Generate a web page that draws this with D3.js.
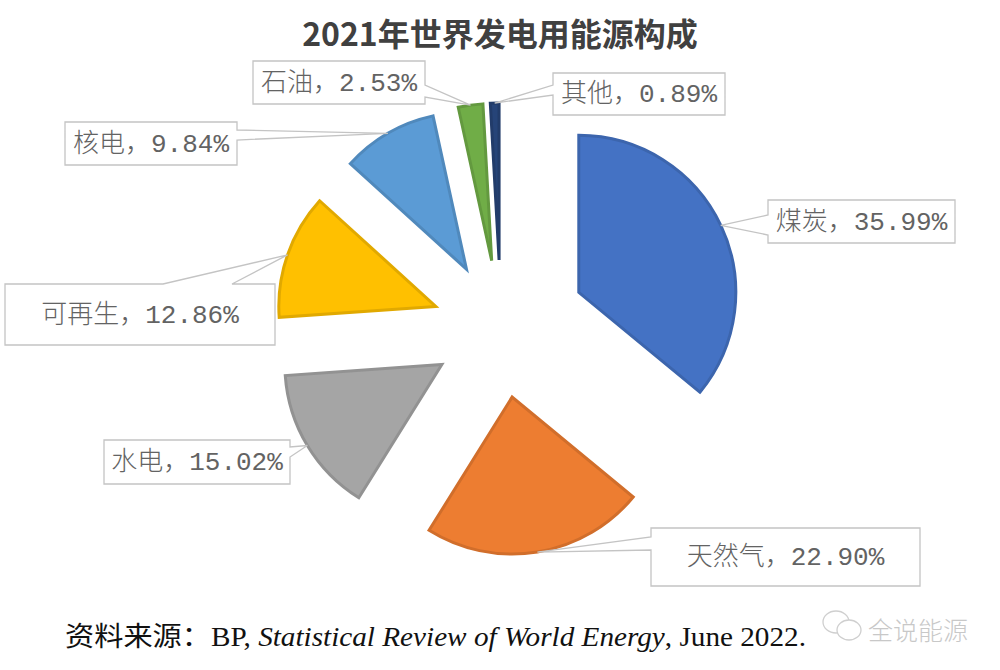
<!DOCTYPE html>
<html>
<head>
<meta charset="utf-8">
<script src="https://cdn.jsdelivr.net/npm/d3@7"></script>
<style>
  body { margin: 0; background: #fff; }
  svg { display: block; }
</style>
</head>
<body>
<script>
// 2021年世界发电用能源构成 (BP Statistical Review 2022)
var categories = ["煤炭", "天然气", "水电", "可再生", "核电", "石油", "其他"];
var shares = [35.99, 22.90, 15.02, 12.86, 9.84, 2.53, 0.89];
var colors = ["#4472C4", "#ED7D31", "#A5A5A5", "#FFC000", "#5B9BD5", "#70AD47", "#264478"];

var w = 1000, h = 670;
var cx = 501, cy = 329, R = 157;

// callout boxes: box corners, side the pointer leaves from, pointer base along that side
var callouts = {
  "煤炭":  { x0: 768, y0: 200, x1: 955, y1: 243, side: "left",  base: [215, 235] },
  "天然气": { x0: 651, y0: 528, x1: 920, y1: 586, side: "left",  base: [537, 550] },
  "水电":  { x0: 104, y0: 440, x1: 290, y1: 484, side: "right", base: [447, 457] },
  "可再生": { x0: 5,   y0: 284, x1: 275, y1: 345, side: "top",   base: [163, 232] },
  "核电":  { x0: 65,  y0: 122, x1: 237, y1: 165, side: "right", base: [130, 140] },
  "石油":  { x0: 253, y0: 61,  x1: 425, y1: 104, side: "right", base: [85, 97] },
  "其他":  { x0: 553, y0: 73,  x1: 725, y1: 115, side: "left",  base: [85, 95] }
};

function explode(name) {
  return name === "煤炭" ? 86 : 69;
}

var svg = d3.select("body")
    .append("svg")
    .attr("width", w)
    .attr("height", h);

// title
svg.append("text")
    .attr("x", 500)
    .attr("y", 46)
    .attr("text-anchor", "middle")
    .attr("font-family", "'Noto Sans CJK SC', 'Noto Sans', sans-serif")
    .attr("font-weight", "bold")
    .attr("font-size", 32)
    .attr("fill", "#404040")
    .text("2021年世界发电用能源构成");

var pie = d3.pie().sort(null).value(function (d) { return d.value; });
var arc = d3.arc().innerRadius(0).outerRadius(R);

var data = categories.map(function (c, i) {
  return { name: c, value: shares[i], color: colors[i] };
});
var arcs = pie(data);

arcs.forEach(function (a) {
  var mid = (a.startAngle + a.endAngle) / 2;
  var e = explode(a.data.name);
  a.ox = cx + e * Math.sin(mid);
  a.oy = cy - e * Math.cos(mid);
  a.tipX = a.ox + R * Math.sin(mid);
  a.tipY = a.oy - R * Math.cos(mid);
});

svg.append("g")
    .selectAll("path")
    .data(arcs)
    .enter()
    .append("path")
    .attr("transform", function (d) { return "translate(" + d.ox + "," + d.oy + ")"; })
    .attr("d", arc)
    .attr("fill", function (d) { return d.data.color; })
    .attr("stroke", function (d) { return d3.color(d.data.color).darker(0.35); })
    .attr("stroke-width", 3)
    .attr("stroke-linejoin", "miter");

function calloutPath(b, tx, ty) {
  var p = "M" + b.x0 + "," + b.y0;
  if (b.side === "top") p += "L" + b.base[0] + "," + b.y0 + "L" + tx + "," + ty + "L" + b.base[1] + "," + b.y0;
  p += "L" + b.x1 + "," + b.y0;
  if (b.side === "right") p += "L" + b.x1 + "," + b.base[0] + "L" + tx + "," + ty + "L" + b.x1 + "," + b.base[1];
  p += "L" + b.x1 + "," + b.y1;
  if (b.side === "bottom") p += "L" + b.base[1] + "," + b.y1 + "L" + tx + "," + ty + "L" + b.base[0] + "," + b.y1;
  p += "L" + b.x0 + "," + b.y1;
  if (b.side === "left") p += "L" + b.x0 + "," + b.base[1] + "L" + tx + "," + ty + "L" + b.x0 + "," + b.base[0];
  return p + "Z";
}

var labels = svg.append("g")
    .selectAll("g")
    .data(arcs)
    .enter()
    .append("g");

labels.append("path")
    .attr("d", function (d) { return calloutPath(callouts[d.data.name], d.tipX, d.tipY); })
    .attr("fill", "#fff")
    .attr("stroke", "#c4c4c4")
    .attr("stroke-width", 1.3);

labels.append("text")
    .attr("x", function (d) { var b = callouts[d.data.name]; return (b.x0 + b.x1) / 2; })
    .attr("y", function (d) { var b = callouts[d.data.name]; return (b.y0 + b.y1) / 2 + 1; })
    .attr("text-anchor", "middle")
    .attr("dominant-baseline", "central")
    .attr("font-family", "'Liberation Mono', 'Noto Sans CJK SC', monospace")
    .attr("font-weight", 300)
    .attr("font-size", 26)
    .attr("fill", "#636363")
    .text(function (d) { return d.data.name + "，" + d.data.value.toFixed(2) + "%"; });

// source line
var src = svg.append("text")
    .attr("x", 65)
    .attr("y", 646)
    .attr("font-family", "'Liberation Serif', 'Noto Sans CJK SC', serif")
    .attr("font-size", 27)
    .attr("fill", "#111")
    .attr("textLength", 741)
    .attr("lengthAdjust", "spacingAndGlyphs");
src.append("tspan").text("资料来源：BP, ");
src.append("tspan").attr("font-style", "italic").text("Statistical Review of World Energy");
src.append("tspan").text(", June 2022.");

// watermark
var wm = svg.append("g").attr("fill", "#fff").attr("stroke", "#cfcfcf").attr("stroke-width", 1.3);
wm.append("ellipse").attr("cx", 836).attr("cy", 622).attr("rx", 13).attr("ry", 11);
wm.append("ellipse").attr("cx", 849).attr("cy", 630).attr("rx", 12).attr("ry", 10);
svg.append("text")
    .attr("x", 868)
    .attr("y", 640)
    .attr("font-family", "'Noto Sans CJK SC', sans-serif")
    .attr("font-weight", 300)
    .attr("font-size", 25)
    .attr("fill", "#c8c8c8")
    .text("全说能源");
</script>
</body>
</html>
